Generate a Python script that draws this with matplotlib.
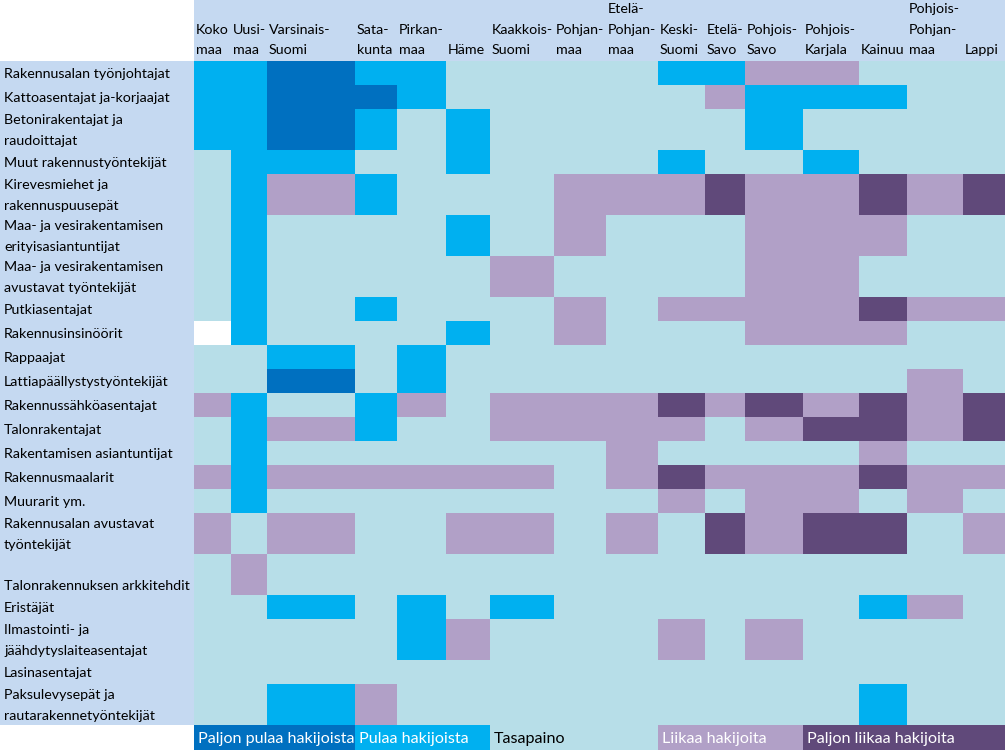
import matplotlib
matplotlib.use('Agg')
import matplotlib.pyplot as plt
import numpy as np
from matplotlib.colors import ListedColormap, BoundaryNorm

plt.rcParams['font.family'] = ['Lato', 'DejaVu Sans']

# data ---------------------------------------------------------------
regions = ['Koko\nmaa', 'Uusi-\nmaa', 'Varsinais-\nSuomi', 'Sata-\nkunta', 'Pirkan-\nmaa',
           'Häme', 'Kaakkois-\nSuomi', 'Pohjan-\nmaa', 'Etelä-\nPohjan-\nmaa', 'Keski-\nSuomi',
           'Etelä-\nSavo', 'Pohjois-\nSavo', 'Pohjois-\nKarjala', 'Kainuu',
           'Pohjois-\nPohjan-\nmaa', 'Lappi']

occupations = ['Rakennusalan työnjohtajat',
               'Kattoasentajat ja-korjaajat',
               'Betonirakentajat ja\nraudoittajat',
               'Muut rakennustyöntekijät',
               'Kirevesmiehet ja\nrakennuspuusepät',
               'Maa- ja vesirakentamisen\nerityisasiantuntijat',
               'Maa- ja vesirakentamisen\navustavat työntekijät',
               'Putkiasentajat',
               'Rakennusinsinöörit',
               'Rappaajat',
               'Lattiapäällystystyöntekijät',
               'Rakennussähköasentajat',
               'Talonrakentajat',
               'Rakentamisen asiantuntijat',
               'Rakennusmaalarit',
               'Muurarit ym.',
               'Rakennusalan avustavat\ntyöntekijät',
               '\nTalonrakennuksen arkkitehdit',
               'Eristäjät',
               'Ilmastointi- ja\njäähdytyslaiteasentajat',
               'Lasinasentajat',
               'Paksulevysepät ja\nrautarakennetyöntekijät']

# 1 = paljon pulaa, 2 = pulaa, 3 = tasapaino, 4 = liikaa, 5 = paljon liikaa, 0 = ei tietoa
levels = [
    [2, 2, 1, 2, 2, 3, 3, 3, 3, 2, 2, 4, 4, 3, 3, 3],
    [2, 2, 1, 1, 2, 3, 3, 3, 3, 3, 4, 2, 2, 2, 3, 3],
    [2, 2, 1, 2, 3, 2, 3, 3, 3, 3, 3, 2, 3, 3, 3, 3],
    [3, 2, 2, 3, 3, 2, 3, 3, 3, 2, 3, 3, 2, 3, 3, 3],
    [3, 2, 4, 2, 3, 3, 3, 4, 4, 4, 5, 4, 4, 5, 4, 5],
    [3, 2, 3, 3, 3, 2, 3, 4, 3, 3, 3, 4, 4, 4, 3, 3],
    [3, 2, 3, 3, 3, 3, 4, 3, 3, 3, 3, 4, 4, 3, 3, 3],
    [3, 2, 3, 2, 3, 3, 3, 4, 3, 4, 4, 4, 4, 5, 4, 4],
    [0, 2, 3, 3, 3, 2, 3, 4, 3, 3, 3, 4, 4, 4, 3, 3],
    [3, 3, 2, 3, 2, 3, 3, 3, 3, 3, 3, 3, 3, 3, 3, 3],
    [3, 3, 1, 3, 2, 3, 3, 3, 3, 3, 3, 3, 3, 3, 4, 3],
    [4, 2, 3, 2, 4, 3, 4, 4, 4, 5, 4, 5, 4, 5, 4, 5],
    [3, 2, 4, 2, 3, 3, 4, 4, 4, 4, 3, 4, 5, 5, 4, 5],
    [3, 2, 3, 3, 3, 3, 3, 3, 4, 3, 3, 3, 3, 4, 3, 3],
    [4, 2, 4, 4, 4, 4, 4, 3, 4, 5, 4, 4, 4, 5, 4, 4],
    [3, 2, 3, 3, 3, 3, 3, 3, 3, 4, 3, 4, 4, 3, 4, 3],
    [4, 3, 4, 3, 3, 4, 4, 3, 4, 3, 5, 4, 5, 5, 3, 4],
    [3, 4, 3, 3, 3, 3, 3, 3, 3, 3, 3, 3, 3, 3, 3, 3],
    [3, 3, 2, 3, 2, 3, 2, 3, 3, 3, 3, 3, 3, 2, 4, 3],
    [3, 3, 3, 3, 2, 4, 3, 3, 3, 4, 3, 4, 3, 3, 3, 3],
    [3, 3, 3, 3, 3, 3, 3, 3, 3, 3, 3, 3, 3, 3, 3, 3],
    [3, 3, 2, 4, 3, 3, 3, 3, 3, 3, 3, 3, 3, 2, 3, 3],
]

legend_labels = ['Paljon pulaa hakijoista', 'Pulaa hakijoista', 'Tasapaino',
                 'Liikaa hakijoita', 'Paljon liikaa hakijoita']
legend_cols = [0, 3, 6, 9, 12]   # first region column of each legend block

# layout (pixels) ----------------------------------------------------
col_edges = [194, 231, 267, 355, 397, 446, 490, 554, 606, 658, 705, 745, 803, 859, 907, 963, 1005]
header_h = 61
row_h = [24 if lab.count('\n') == 0 else 41 for lab in occupations]
row_edges = np.concatenate([[header_h], header_h + np.cumsum(row_h)])
legend_top = row_edges[-1]
H = 750

colors = ['#0070C0', '#00B0F0', '#B7DEE8', '#B1A0C7', '#60497A']
cmap = ListedColormap(colors)
cmap.set_bad('white')
norm = BoundaryNorm([0.5, 1.5, 2.5, 3.5, 4.5, 5.5], cmap.N)
bg = '#C5D9F1'

fig = plt.figure(figsize=(10.05, 7.5), dpi=100)
ax = fig.add_axes([0, 0, 1, 1])
ax.set_xlim(0, 1005)
ax.set_ylim(H, 0)
ax.axis('off')

# header and label column backgrounds
ax.axhspan(0, header_h, xmin=col_edges[0] / 1005, xmax=1, color=bg, lw=0)
ax.axvspan(0, col_edges[0], ymin=(H - legend_top) / H, ymax=(H - header_h) / H, color=bg, lw=0)

# the cells
Z = np.ma.masked_equal(np.array(levels), 0)
ax.pcolormesh(col_edges, row_edges, Z, cmap=cmap, norm=norm, edgecolor='none')

# legend row
leg_row = np.zeros(len(regions))
for i, c in enumerate(legend_cols):
    leg_row[c:] = i + 1
ax.pcolormesh(col_edges, [legend_top, H], leg_row[None, :], cmap=cmap, norm=norm, edgecolor='none')
for i, (lab, c) in enumerate(zip(legend_labels, legend_cols)):
    ax.text(col_edges[c] + 4, (legend_top + H) / 2 + 1, lab, fontsize=11.6,
            color='black' if i == 2 else 'white', va='center', ha='left')

# region headers (bottom aligned)
line_gap = 20.5
for j, name in enumerate(regions):
    lines = name.split('\n')
    for k, ln in enumerate(lines[::-1]):
        ax.text(col_edges[j] + 2, 50 - k * line_gap, ln, fontsize=10.3,
                va='center', ha='left')

# occupation labels
for i, lab in enumerate(occupations):
    lines = lab.split('\n')
    top, bot = row_edges[i], row_edges[i + 1]
    n = len(lines)
    for k, ln in enumerate(lines):
        y = top + (k + 0.5) * (bot - top) / n + 1
        ax.text(4, y, ln, fontsize=10.3, va='center', ha='left')

plt.savefig('out.png', dpi=100)
